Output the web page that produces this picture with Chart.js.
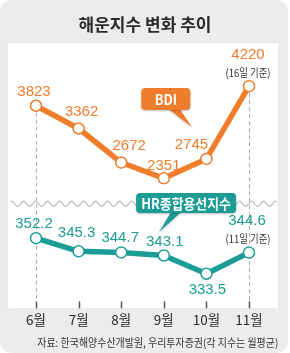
<!DOCTYPE html>
<html>
<head>
<meta charset="utf-8">
<script src="https://cdn.jsdelivr.net/npm/chart.js@4.4.1/dist/chart.umd.min.js"></script>
<style>
    html, body { margin: 0; padding: 0; background: #fff; }
    canvas { display: block; }
</style>
</head>
<body>
<canvas id="chart" width="290" height="353"></canvas>
<script>
const MONTHS = ['6월', '7월', '8월', '9월', '10월', '11월'];
const BDI = [3823, 3362, 2672, 2351, 2745, 4220];
const HR = [352.2, 345.3, 344.7, 343.1, 333.5, 344.6];
const BDI_NOTE = ['', '', '', '', '', '(16일 기준)'];
const HR_NOTE = ['', '', '', '', '', '(11일 기준)'];
const SERIES = ['BDI', 'HR종합용선지수'];
const TITLE = '해운지수 변화 추이';
const SOURCE = '자료: 한국해양수산개발원, 우리투자증권(각 지수는 월평균)';

const ORANGE = '#f07d2b';
const TEAL = '#1b9d95';
const NUM_FONT = '"Liberation Sans Narrow", "Liberation Sans", Arial, sans-serif';
const KR_FONT = '"Noto Sans CJK KR", "Noto Sans", sans-serif';

// label offsets from each point [dx, dy]
const bdiLabelPos = [[-2, -14], [3, -17], [8, -17], [0, -13], [-15, -14], [-1, -31]];
const hrLabelPos = [[-2, -14], [-2, -18], [-1, -15], [1, -14], [1, 16], [-2, -32]];

function txt(ctx, s, x, y, font, color, align, sx) {
    ctx.save();
    ctx.font = font;
    ctx.fillStyle = color;
    ctx.textBaseline = 'middle';
    ctx.textAlign = align || 'center';
    ctx.translate(x, y);
    ctx.scale(sx || 1, 1);
    ctx.fillText(s, 0, 0);
    ctx.restore();
}

function badge(ctx, text, cx, top, w, h, tail, color) {
    ctx.save();
    ctx.fillStyle = color;
    ctx.shadowColor = 'rgba(0,0,0,0.25)';
    ctx.shadowBlur = 2;
    ctx.shadowOffsetY = 1;
    ctx.beginPath();
    ctx.moveTo(tail[0], top + h - 1);
    ctx.lineTo(tail[1], top + h - 1);
    ctx.lineTo(tail[2], tail[3]);
    ctx.closePath();
    ctx.fill();
    ctx.beginPath();
    ctx.roundRect(cx - w / 2, top, w, h, 4);
    ctx.fill();
    ctx.restore();
    txt(ctx, text, cx, top + h / 2 + 1, 'bold 14px ' + KR_FONT, '#fff', 'center', 0.92);
}

const decor = {
    id: 'decor',
    beforeDraw(chart) {
        const { ctx, chartArea: a } = chart;
        const x = chart.scales.x, yB = chart.scales.yB;
        ctx.save();
        ctx.fillStyle = '#fff';
        ctx.fillRect(0, 0, chart.width, chart.height);
        ctx.fillStyle = '#ececec';
        ctx.beginPath();
        ctx.roundRect(0, 0, chart.width - 2, chart.height, 12);
        ctx.fill();

        // white panel
        ctx.save();
        ctx.shadowColor = 'rgba(0,0,0,0.15)';
        ctx.shadowBlur = 3;
        ctx.fillStyle = '#fff';
        ctx.fillRect(a.left - 7, a.top, a.width + 15, a.height);
        ctx.restore();

        txt(ctx, TITLE, chart.width / 2, 25, 'bold 17px ' + KR_FONT, '#2a2a2a');

        // wavy break
        const wy = a.top + a.height * 0.606;
        ctx.strokeStyle = '#c4c4c4';
        ctx.lineWidth = 1.4;
        ctx.beginPath();
        for (let px = a.left - 4; px <= a.right + 7; px += 0.5) {
            const py = wy + 2.5 * Math.sin((px - a.left) / 12 * Math.PI * 2);
            if (px === a.left - 4) ctx.moveTo(px, py); else ctx.lineTo(px, py);
        }
        ctx.stroke();

        // dashed guides at first and last month
        ctx.strokeStyle = '#a8a8a8';
        ctx.lineWidth = 1;
        ctx.setLineDash([4, 3]);
        [0, MONTHS.length - 1].forEach(i => {
            const px = Math.round(x.getPixelForValue(i)) + 0.5;
            ctx.beginPath();
            ctx.moveTo(px, yB.getPixelForValue(BDI[i]));
            ctx.lineTo(px, a.bottom);
            ctx.stroke();
        });
        ctx.setLineDash([]);

        // tick marks
        ctx.strokeStyle = '#555';
        ctx.lineWidth = 1.5;
        MONTHS.forEach((m, i) => {
            const px = Math.round(x.getPixelForValue(i)) + 0.5;
            ctx.beginPath();
            ctx.moveTo(px, a.bottom - 7);
            ctx.lineTo(px, a.bottom);
            ctx.stroke();
        });
        ctx.restore();
    },
    afterDatasetsDraw(chart) {
        const { ctx } = chart;
        const x = chart.scales.x, yB = chart.scales.yB, yH = chart.scales.yH;
        const numFont = '15px ' + NUM_FONT;
        const noteFont = '11px ' + KR_FONT;

        BDI.forEach((v, i) => {
            const px = x.getPixelForValue(i), py = yB.getPixelForValue(v);
            txt(ctx, String(v), px + bdiLabelPos[i][0], py + bdiLabelPos[i][1], numFont, ORANGE);
            if (BDI_NOTE[i]) txt(ctx, BDI_NOTE[i], px - 1, py - 13, noteFont, '#333', 'center', 0.86);
        });
        HR.forEach((v, i) => {
            const px = x.getPixelForValue(i), py = yH.getPixelForValue(v);
            txt(ctx, v.toFixed(1), px + hrLabelPos[i][0], py + hrLabelPos[i][1], numFont, TEAL);
            if (HR_NOTE[i]) txt(ctx, HR_NOTE[i], px - 1, py - 14, noteFont, '#333', 'center', 0.86);
        });

        // callouts
        const x9 = x.getPixelForValue(3), x10 = x.getPixelForValue(4);
        badge(ctx, SERIES[0], x9 + 2, 88, 49, 22, [x9 + 5, x9 + 16, x9 + 28, 127], ORANGE);
        const cx = (x9 + x10) / 2 + 1;
        badge(ctx, SERIES[1], cx, 193, 100, 20, [cx - 15, cx - 5, cx - 27, 232], TEAL);
    },
    afterDraw(chart) {
        const { ctx, chartArea: a } = chart;
        ctx.save();
        ctx.font = '11px ' + KR_FONT;
        const w = ctx.measureText(SOURCE).width;
        const target = 241;
        ctx.restore();
        txt(ctx, SOURCE, a.right + 8, 343, '11px ' + KR_FONT, '#333', 'right', target / w);
    }
};

new Chart(document.getElementById('chart'), {
    type: 'line',
    data: {
        labels: MONTHS,
        datasets: [
            {
                label: SERIES[0],
                data: BDI,
                yAxisID: 'yB',
                borderColor: ORANGE,
                borderWidth: 5.5,
                pointRadius: 5.5,
                pointBorderWidth: 1.5,
                pointBackgroundColor: '#fff',
                pointBorderColor: ORANGE,
                borderJoinStyle: 'round',
                tension: 0
            },
            {
                label: SERIES[1],
                data: HR,
                yAxisID: 'yH',
                borderColor: TEAL,
                borderWidth: 5.5,
                pointRadius: 5.5,
                pointBorderWidth: 1.5,
                pointBackgroundColor: '#fff',
                pointBorderColor: TEAL,
                borderJoinStyle: 'round',
                tension: 0
            }
        ]
    },
    options: {
        responsive: false,
        animation: false,
        devicePixelRatio: 1,
        layout: { padding: { left: 14.7, right: 19.7, top: 43, bottom: 22.4 } },
        plugins: { legend: { display: false }, tooltip: { enabled: false } },
        scales: {
            x: {
                offset: true,
                grid: { display: false, drawTicks: false },
                border: { display: false },
                ticks: { color: '#2a2a2a', font: { family: KR_FONT, size: 13.5 }, padding: 3 }
            },
            yB: { display: false, min: -285, max: 5095 },
            yH: { display: false, min: 315.3, max: 454.7 }
        }
    },
    plugins: [decor]
});
</script>
</body>
</html>
